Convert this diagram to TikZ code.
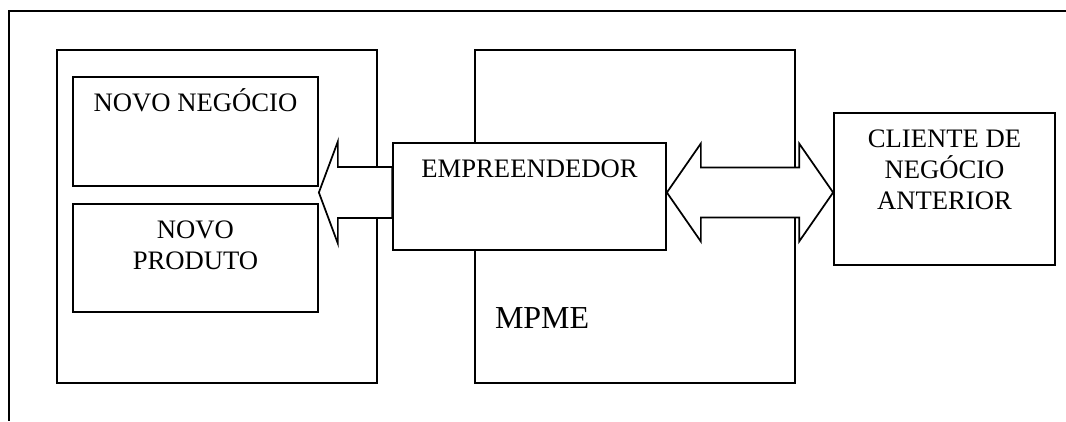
\documentclass[tikz,border=0pt]{standalone}
\usepackage{fontspec}
\setmainfont{Liberation Serif}
\usetikzlibrary{fit,calc}

\newcommand{\boxfont}{\fontsize{20}{23.25}\selectfont}
\newcommand{\firstline}{\rule{0pt}{26pt}}

\begin{document}
\begin{tikzpicture}[x=0.75pt, y=-0.75pt, line width=1.3pt,
    box/.style={draw, fill=white, inner sep=0pt},
    boxtext/.style={anchor=north, inner sep=0pt, align=center, font=\boxfont},
    blockarrow/.style={draw, fill=white, line join=miter}]
    \useasboundingbox (0,0) rectangle (1066,421);

    % Page frame, open at the right and the bottom
    \draw (1066,11) -- (9,11) -- (9,421);

    % Left side: new business and new product
    \node[box, fit={(57,50) (377,383)}] (novo) {};
    \node[box, fit={(73,77) (318,186)}] (negocio) {};
    \node[box, fit={(73,204) (318,312)}] (produto) {};
    \node[boxtext] (negociotxt) at (negocio.north) {\firstline NOVO NEGÓCIO};
    \node[boxtext] (produtotxt) at (produto.north) {\firstline NOVO\\PRODUTO};

    % Middle: the firm with the entrepreneur in it
    \node[box, fit={(475,50) (795,383)}] (mpme) {};
    \node[anchor=base west, inner sep=0pt, font=\fontsize{24}{28}\selectfont]
        (mpmetxt) at ($(mpme.south west)+(20,-55)$) {MPME};
    \node[box, fit={(393,143) (666,250)}] (empreendedor) {};
    \node[boxtext] (empreendedortxt) at (empreendedor.north) {\firstline EMPREENDEDOR};

    % Right side: former client
    \node[box, fit={(834,113) (1055,265)}] (cliente) {};
    \node[boxtext] (clientetxt) at (cliente.north) {\firstline CLIENTE DE\\NEGÓCIO\\ANTERIOR};

    % Block arrow towards the left side
    \coordinate (la) at (empreendedor.west |- 0,192.5);
    \coordinate (lb) at (negocio.east |- 0,192.5);
    \draw[blockarrow] ($(la)+(0,-25.5)$) -- ($(lb)+(19,-25.5)$) -- ($(lb)+(19,-51)$)
        -- (lb) -- ($(lb)+(19,51)$) -- ($(lb)+(19,25.5)$) -- ($(la)+(0,25.5)$) -- cycle;

    % Double block arrow between entrepreneur and client
    \coordinate (da) at (empreendedor.east |- 0,192.5);
    \coordinate (db) at (cliente.west |- 0,192.5);
    \draw[blockarrow] (da) -- ($(da)+(34,-49)$) -- ($(da)+(34,-25)$)
        -- ($(db)+(-34,-25)$) -- ($(db)+(-34,-49)$) -- (db)
        -- ($(db)+(-34,49)$) -- ($(db)+(-34,25)$) -- ($(da)+(34,25)$)
        -- ($(da)+(34,49)$) -- cycle;
\end{tikzpicture}
\end{document}
